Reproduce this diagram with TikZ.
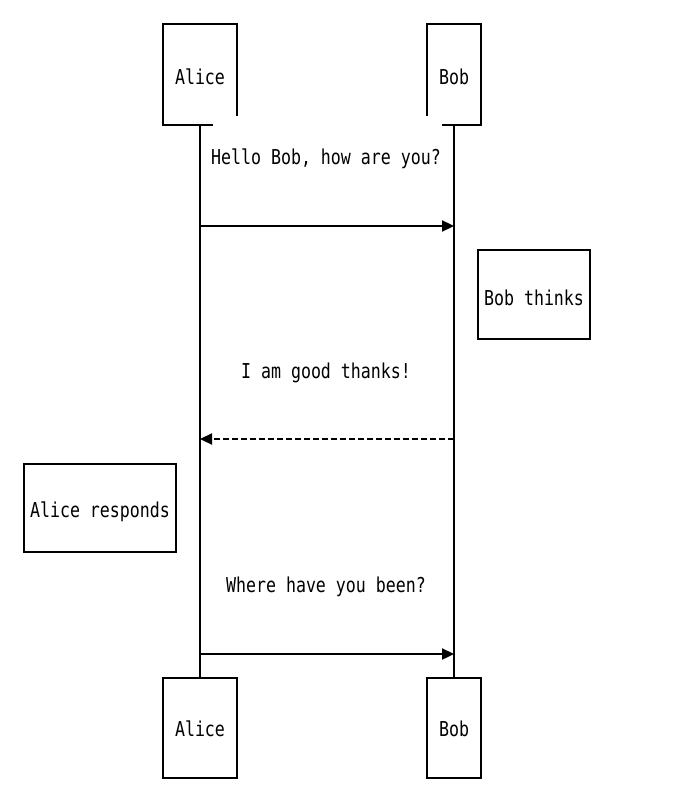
\documentclass[tikz,border=0pt]{standalone}
\usepackage{fontspec}
\setmainfont{DejaVu Sans Mono}[FakeStretch=0.81]
\usetikzlibrary{arrows.meta}
\begin{document}
\begin{tikzpicture}[x=1pt,y=-1pt,
  line width=2.3pt,
  lbl/.style={font=\fontsize{20.5}{24}\selectfont, inner sep=0pt},
  partbox/.style={draw, rectangle, inner sep=0pt},
  msg/.style={-{Triangle[length=12pt,width=11pt]}},
  reply/.style={-{Triangle[length=12pt,width=11pt]}, dash pattern=on 6pt off 3pt}
]
\useasboundingbox (0,0) rectangle (676,802);
% top participant boxes (drawn as in the picture, with gaps)
\draw[line cap=rect] (237,115) -- (237,24) -- (163,24) -- (163,125) -- (212,125);
\node[lbl] (aliceT) at (200,77) {Alice};
\draw[line cap=rect] (427,115) -- (427,24) -- (481,24) -- (481,125) -- (443,125);
\node[lbl] (bobT) at (454,77) {Bob};
% bottom participant boxes
\node[partbox, minimum width=74pt, minimum height=100pt] (aliceB) at (200,728) {};
\node[lbl] at ([yshift=-1pt]aliceB.center) {Alice};
\node[partbox, minimum width=54pt, minimum height=100pt] (bobB) at (454,728) {};
\node[lbl] at ([yshift=-1pt]bobB.center) {Bob};
% lifelines
\coordinate (aTop) at (200,125);
\coordinate (bTop) at (454,125);
\draw (aTop) -- (aliceB.north);
\draw (bTop) -- (bobB.north);
% messages
\node[lbl] (m1) at (326,158.5) {Hello Bob, how are you?};
\coordinate (a1) at (200,226); \coordinate (b1) at (454,226);
\draw[msg] (a1) -- (b1);
\node[partbox, minimum width=112pt, minimum height=89pt] (n1) at (534,294.5) {};
\node[lbl] at (534,297.5) {Bob thinks};
\node[lbl] (m2) at (326,372.5) {I am good thanks!};
\coordinate (a2) at (200,439); \coordinate (b2) at (454,439);
\draw[reply] (b2) -- (a2);
\node[partbox, minimum width=152pt, minimum height=88pt] (n2) at (100,508) {};
\node[lbl] at (100,511.5) {Alice responds};
\node[lbl] (m3) at (326,586.5) {Where have you been?};
\coordinate (a3) at (200,654); \coordinate (b3) at (454,654);
\draw[msg] (a3) -- (b3);
\end{tikzpicture}
\end{document}
